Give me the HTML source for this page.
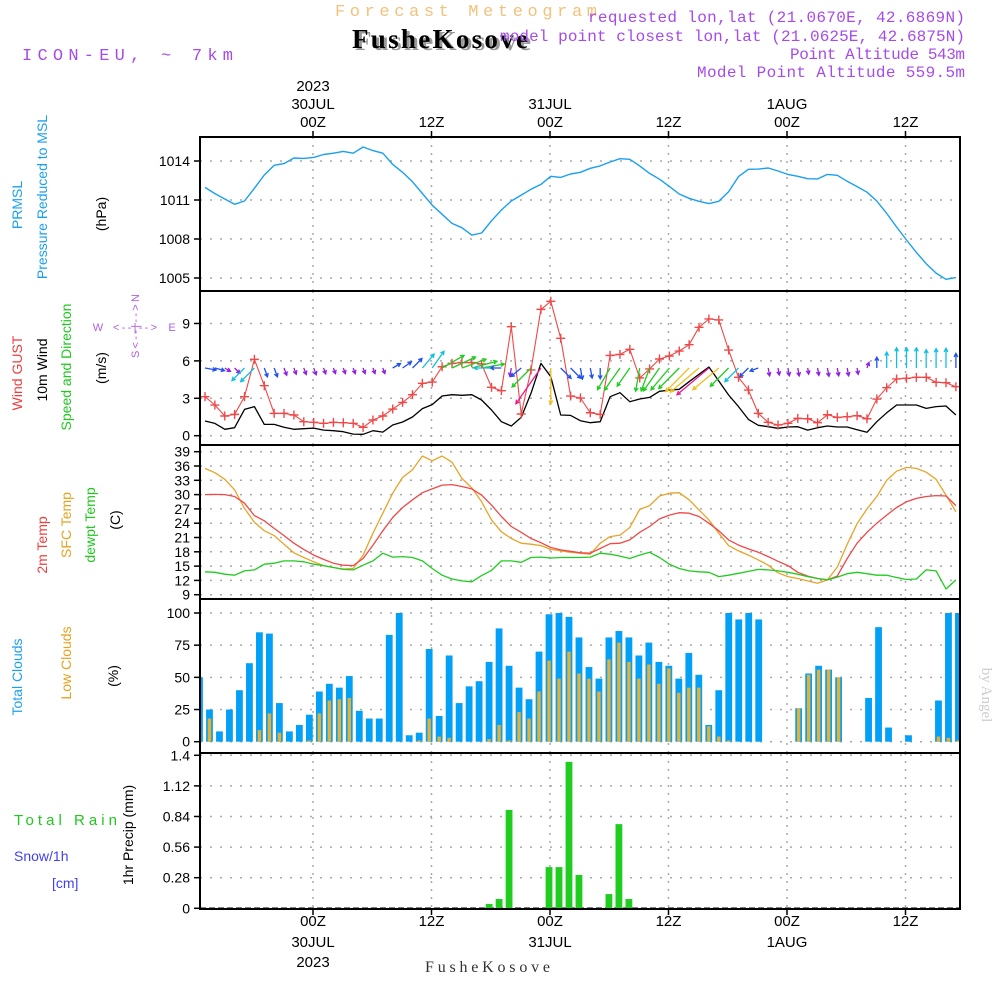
<!DOCTYPE html>
<html><head><meta charset="utf-8"><title>Meteogram</title>
<style>
html,body{margin:0;padding:0;background:#fff;}
svg{display:block;font-family:"Liberation Sans",sans-serif;}
</style></head>
<body>
<svg id="chart" xmlns="http://www.w3.org/2000/svg" width="1000" height="1000" viewBox="0 0 1000 1000">
<rect x="0" y="0" width="1000" height="1000" fill="#fff"/>
<g>
<text x="335" y="16" textLength="262" font-size="17" fill="#f2c27c" font-family="Liberation Mono,monospace">Forecast Meteogram</text>
<text x="355" y="50" textLength="176" font-size="27" font-weight="bold" fill="#999" font-family="Liberation Serif,serif">FusheKosove</text>
<text x="352" y="48" textLength="176" font-size="27" font-weight="bold" fill="#000" font-family="Liberation Serif,serif">FusheKosove</text>
<text x="22" y="60" textLength="211" font-size="17" fill="#a64be8" font-family="Liberation Mono,monospace">ICON-EU, ~ 7km</text>
<g font-family="Liberation Mono,monospace" font-size="16" fill="#a64be8" text-anchor="end">
<text x="965" y="22" textLength="377">requested lon,lat (21.0670E, 42.6869N)</text>
<text x="965" y="41" textLength="465">model point closest lon,lat (21.0625E, 42.6875N)</text>
<text x="965" y="59" textLength="175">Point Altitude 543m</text>
<text x="965" y="77" textLength="268">Model Point Altitude 559.5m</text>
</g>
</g>
<g id="grid"></g>
<g id="marks"></g>
<g id="axes"></g>
<g font-size="14">
<text transform="translate(22,205) rotate(-90)" text-anchor="middle" fill="#1aa0f0">PRMSL</text>
<text transform="translate(47,197) rotate(-90)" text-anchor="middle" fill="#1aa0f0">Pressure Reduced to MSL</text>
<text transform="translate(106,214) rotate(-90)" text-anchor="middle" fill="#000">(hPa)</text>
<text transform="translate(22,373) rotate(-90)" text-anchor="middle" fill="#f03c3c">Wind GUST</text>
<text transform="translate(47,370) rotate(-90)" text-anchor="middle" fill="#000">10m Wind</text>
<text transform="translate(71,367) rotate(-90)" text-anchor="middle" fill="#1ec81e">Speed and Direction</text>
<text transform="translate(106,368) rotate(-90)" text-anchor="middle" fill="#000">(m/s)</text>
<g fill="#b060e0" font-size="11" text-anchor="middle">
<text x="98" y="331">W</text><text x="135" y="331" textLength="44">&lt;--|--&gt;</text><text x="172" y="331">E</text>
<text transform="translate(139,326) rotate(-90)" textLength="64">S&lt;--|--&gt;N</text>
</g>
<text transform="translate(47,545) rotate(-90)" text-anchor="middle" fill="#f03c3c">2m Temp</text>
<text transform="translate(71,525) rotate(-90)" text-anchor="middle" fill="#e8a020">SFC Temp</text>
<text transform="translate(95,525) rotate(-90)" text-anchor="middle" fill="#1ec81e">dewpt Temp</text>
<text transform="translate(120,520) rotate(-90)" text-anchor="middle" fill="#000">(C)</text>
<text transform="translate(22,677) rotate(-90)" text-anchor="middle" fill="#1aa0f0">Total Clouds</text>
<text transform="translate(71,663) rotate(-90)" text-anchor="middle" fill="#e8a020">Low Clouds</text>
<text transform="translate(118,676) rotate(-90)" text-anchor="middle" fill="#000">(%)</text>
<text x="14" y="825" fill="#1ec81e" font-size="15" textLength="103">Total  Rain</text>
<text x="14" y="861" fill="#4040f0">Snow/1h</text>
<text x="52" y="888" fill="#4040f0">[cm]</text>
<text transform="translate(133,835) rotate(-90)" text-anchor="middle" fill="#000">1hr Precip (mm)</text>
</g>
<text transform="translate(982,695) rotate(90)" text-anchor="middle" font-family="Liberation Serif,serif" font-size="15" fill="#ccc">by Angel</text>
<text x="425" y="972" textLength="125" font-family="Liberation Serif,serif" font-size="16" fill="#333">FusheKosove</text>
</svg>
<script>
// ---- data (hourly, index 0 = ~13Z 29JUL) ----
const pressure = [1011.97,1011.49,1011.08,1010.67,1010.92,1011.9,1012.92,1013.67,1013.8,1014.23,1014.2,1014.28,1014.5,1014.6,1014.74,1014.6,1015.08,1014.8,1014.6,1013.74,1013.13,1012.4,1011.5,1010.6,1009.9,1009.2,1008.87,1008.3,1008.46,1009.4,1010.23,1010.92,1011.38,1011.82,1012.2,1012.82,1012.74,1013.0,1013.13,1013.44,1013.62,1013.92,1014.18,1014.13,1013.62,1013.05,1012.6,1012.05,1011.46,1011.13,1010.9,1010.72,1010.9,1011.64,1012.8,1013.36,1013.38,1013.46,1013.23,1012.97,1012.82,1012.64,1012.62,1012.97,1012.9,1012.44,1012.03,1011.6,1010.92,1009.97,1008.92,1007.92,1006.97,1006.1,1005.38,1004.9,1005.03];
const gust = [3.13,2.46,1.58,1.71,3.13,6.12,4.01,1.79,1.79,1.66,1.12,1.07,0.99,1.07,1.04,0.99,0.67,1.26,1.58,2.14,2.67,3.29,4.2,4.3,5.53,5.8,5.86,5.86,5.75,3.88,3.61,8.74,1.74,5.27,10.13,10.78,7.81,3.18,3.02,1.84,1.71,6.44,6.52,6.93,4.63,5.35,6.15,6.39,6.79,7.30,8.69,9.36,9.28,6.87,4.68,3.66,1.79,1.07,0.86,0.99,1.39,1.36,1.04,1.68,1.47,1.52,1.60,1.36,2.94,3.85,4.55,4.60,4.68,4.68,4.28,4.25,3.93];
const wind = [1.18,0.99,0.51,0.64,2.11,2.33,0.91,0.91,0.67,0.51,0.56,0.61,0.45,0.40,0.32,0.13,0.11,0.40,0.29,0.86,1.10,1.50,2.17,2.49,3.18,3.29,3.24,3.29,2.86,2.06,1.12,0.78,1.47,3.40,5.80,4.73,1.66,1.63,1.20,1.04,1.12,3.13,3.45,2.73,2.94,3.07,3.56,3.66,3.72,4.33,4.92,5.51,4.39,3.26,2.33,1.31,0.83,0.72,0.59,0.70,0.72,0.45,0.64,0.78,0.70,0.70,0.48,0.27,1.12,1.84,2.46,2.46,2.46,2.19,2.33,2.38,1.66];
const windToDir = [10,15,30,45,135,135,70,70,70,70,70,70,70,70,70,70,70,70,70,-30,-35,-45,-50,-55,-30,-25,-20,-15,-10,180,180,100,140,135,125,90,45,45,80,80,90,120,125,125,100,110,125,130,135,135,140,140,140,135,135,135,160,80,80,80,80,80,80,80,80,80,80,-70,-90,-90,-90,-90,-90,-90,-90,-90,-90];
const temp2m = [30.0,30.05,30.0,29.6,28.2,25.6,24.5,22.9,21.4,19.8,18.5,17.3,16.4,15.6,15.2,15.1,16.6,19.4,22.4,25.2,27.3,28.9,30.4,31.2,32.0,32.1,31.7,31.2,29.9,27.8,25.4,23.3,22.1,20.8,19.9,18.9,18.4,18.1,17.8,17.7,18.7,19.7,19.8,20.5,22.1,23.3,24.9,25.7,26.2,26.1,25.4,24.0,22.4,20.5,19.4,18.6,17.9,17.0,16.0,15.1,13.7,12.9,12.4,12.1,12.9,16.6,19.8,22.1,24.0,25.7,27.3,28.5,29.2,29.6,29.8,29.7,27.7];
const tempSfc = [35.5,34.6,33.2,31.0,27.1,24.2,22.4,21.4,19.6,17.8,16.8,15.9,15.1,14.7,14.4,14.5,17.3,21.9,26.1,30.3,33.6,35.2,38.1,37.1,38.1,36.8,33.4,31.4,28.5,24.7,22.2,20.8,19.8,19.6,19.3,18.5,18.2,17.9,17.7,17.5,19.8,21.2,21.5,23.1,26.9,27.7,29.7,30.3,30.4,28.9,26.8,24.7,21.9,19.3,18.2,17.3,16.3,15.2,13.6,12.8,12.4,11.9,11.4,12.1,14.8,19.6,23.9,27.0,29.6,33.0,34.9,35.7,35.5,34.7,33.2,29.9,26.4];
const dewpt = [13.8,13.7,13.3,13.1,14.0,14.2,15.4,15.6,16.1,16.1,15.9,15.4,15.1,14.7,14.3,14.2,15.2,16.1,17.7,16.9,17.0,16.8,16.1,14.5,13.1,12.3,11.9,11.7,13.0,14.1,16.1,16.1,15.8,16.8,16.9,16.7,16.8,16.8,16.8,16.9,17.7,17.5,17.1,16.6,17.3,17.9,16.8,15.4,14.5,14.0,13.8,13.7,12.8,13.1,13.5,13.9,14.3,14.2,14.0,13.7,13.3,12.8,12.4,12.1,12.7,13.4,13.7,13.4,13.1,13.1,12.6,12.2,12.3,14.2,14.0,10.2,12.1];
const totalClouds = [50,25,8,25,40,61,85,84,30,8,13,21,39,45,42,51,24,18,18,83,100,5,7,72,20,67,30,43,47,62,88,59,42,33,70,99,100,97,81,58,49,81,86,81,67,77,62,59,49,69,52,13,40,100,95,100,95,0,0,0,26,53,59,56,50,0,0,34,89,11,0,5,0,0,32,100,100];
const lowClouds = [9,18,0,0,0,0,9,22,7,0,0,1,22,32,33,34,0,0,0,0,0,0,1,18,4,3,0,0,0,2,13,1,23,18,39,63,49,70,53,49,39,64,77,62,49,60,45,57,38,42,42,12,4,1,0,0,0,0,0,0,26,52,56,56,50,0,0,0,0,0,0,0,0,0,4,3,1];
const precip = [0,0,0,0,0,0,0,0,0,0,0,0,0,0,0,0,0,0,0,0,0,0,0,0,0,0,0,0,0,0.04,0.085,0.9,0,0,0,0.377,0.377,1.34,0.305,0,0,0.13,0.77,0.085,0,0,0,0,0,0,0,0,0,0,0,0,0,0,0,0,0,0,0,0,0,0,0,0,0,0,0,0,0,0,0,0,0];
const timeTickHours = [0,12,24,36,48,60];
const timeTickTop = [["2023","30JUL","00Z"],["","","12Z"],["","31JUL","00Z"],["","","12Z"],["","1AUG","00Z"],["","","12Z"]];
const timeTickBottom = [["00Z","30JUL","2023"],["12Z","",""],["00Z","31JUL",""],["12Z","",""],["00Z","1AUG",""],["12Z","",""]];
const pressureTicks = [1005,1008,1011,1014];
const windTicks = [0,3,6,9];
const tempTicks = [9,12,15,18,21,24,27,30,33,36,39];
const cloudTicks = [0,25,50,75,100];
const precipTicks = [0,0.28,0.56,0.84,1.12,1.4];

// ---- scales ----
const X0 = 200, X1 = 960;
const tx = h => 313 + 9.875*h;
const lx = i => 205 + 9.88*i;
const bx = i => 199.5 + 9.986*i;
const yP = p => 161 + (1014-p)*13;
const yW = v => 435.7 - v*12.47;
const yT = t => 451.7 + (39-t)*4.767;
const yC = c => 741.7 - c*1.287;
const yR = r => 908.3 - r*109.3;
const panels = [[137,291],[291,445],[445,599],[599,753],[753,909]];

const NS = "http://www.w3.org/2000/svg";
function mk(tag, attrs, parent){ const e=document.createElementNS(NS,tag); for(const k in attrs) e.setAttribute(k,attrs[k]); parent.appendChild(e); return e; }
const grid = document.getElementById('grid'), marks = document.getElementById('marks'), axes = document.getElementById('axes');

const defs = mk('defs',{},document.getElementById('chart'));
const cp = mk('clipPath',{id:'plotclip'},defs); mk('rect',{x:X0,y:137,width:X1-X0,height:772},cp);
marks.setAttribute('clip-path','url(#plotclip)');

function hgrid(vals, f){ vals.forEach(v=>{ const l=mk('line',{x1:X0,x2:X1,y1:f(v),y2:f(v),stroke:'#aaa','stroke-width':1.5,'stroke-dasharray':'2,8'},grid);

 }); }
hgrid(pressureTicks,yP); hgrid(windTicks,yW); hgrid(tempTicks,yT); hgrid(cloudTicks,yC); hgrid(precipTicks.slice(1),yR);
timeTickHours.forEach(h=>{ panels.forEach(p=>{ const l=mk('line',{x1:tx(h),x2:tx(h),y1:p[0],y2:p[1],stroke:'#aaa','stroke-width':1.5,'stroke-dasharray':'2,6'},grid);

 }); });

function ylabels(vals,f,fmt){ vals.forEach(v=>{ const t=mk('text',{x:190,y:f(v)+5,'text-anchor':'end','font-size':14,fill:'#000'},axes); t.textContent=fmt(v);


mk('line',{x1:X0-6,x2:X0,y1:f(v),y2:f(v),stroke:'#000','stroke-width':1.5},axes); }); }
ylabels(pressureTicks,yP,v=>v); ylabels(windTicks,yW,v=>v); ylabels(tempTicks,yT,v=>v); ylabels(cloudTicks,yC,v=>v); ylabels(precipTicks,yR,v=>v===0?'0':String(v));

function polyline(arr, xf, yf, color, name, w){ const pts=arr.map((v,i)=>xf(i).toFixed(1)+','+yf(v).toFixed(1)).join(' ');
const p=mk('polyline',{points:pts,fill:'none',stroke:color,'stroke-width':w||1.3,'stroke-linejoin':'round'},marks);

 return p; }
polyline(pressure,lx,yP,'#1aa0f0','pressure-line',1.4);

totalClouds.forEach((c,i)=>{ if(c<=0) return; const r=mk('rect',{x:bx(i)-3.4,y:yC(c),width:6.8,height:yC(0)-yC(c),fill:'#03a0f8'},marks);

 });
lowClouds.forEach((c,i)=>{ if(c<=0) return; const r=mk('rect',{x:bx(i)-1.7,y:yC(c),width:3.4,height:yC(0)-yC(c),fill:'#e8b030'},marks);

 });
mk('line',{x1:X0,x2:X1,y1:yR(0),y2:yR(0),stroke:'#000','stroke-width':1.5,'stroke-dasharray':'6,3'},marks);
precip.forEach((r,i)=>{ if(r<=0) return; const e=mk('rect',{x:bx(i)-3.4,y:yR(r),width:6.8,height:yR(0)-yR(r),fill:'#20cc20'},marks);

 });

polyline(tempSfc,lx,yT,'#e8a428','sfc-temp-line');
polyline(temp2m,lx,yT,'#f04848','temp-2m-line');
polyline(dewpt,lx,yT,'#20cc20','dewpt-line');

polyline(wind,lx,yW,'#000','wind-line');
polyline(gust,lx,yW,'#f04848','gust-line',1.1);
gust.forEach((g,i)=>{ const x=lx(i), y=yW(g);
const m=mk('path',{d:`M${x-4.5},${y}H${x+4.5}M${x},${y-4.5}V${y+4.5}`,stroke:'#f04848','stroke-width':1.4},marks);

 });
function windColor(s){ return s<0.8?'#9020e0':s<1.8?'#2050f0':s<2.6?'#10c0e0':s<3.9?'#20cc20':s<5?'#f0c020':'#f01890'; }
windToDir.forEach((d,i)=>{ const s=wind[i]; const len=Math.max(6,Math.min(45,7*s+3)); const a=d*Math.PI/180;
const x0=lx(i), y0=368; const x1=x0+len*Math.cos(a), y1=y0+len*Math.sin(a);
const h=4, a1=a+Math.PI-0.5, a2=a+Math.PI+0.5; const col=windColor(s);
const p=mk('path',{d:`M${x0.toFixed(1)},${y0}L${x1.toFixed(1)},${y1.toFixed(1)}M${(x1+h*Math.cos(a1)).toFixed(1)},${(y1+h*Math.sin(a1)).toFixed(1)}L${x1.toFixed(1)},${y1.toFixed(1)}L${(x1+h*Math.cos(a2)).toFixed(1)},${(y1+h*Math.sin(a2)).toFixed(1)}`,stroke:col,'stroke-width':1.3,fill:'none'},marks);

 });

panels.forEach(p=>{ const r=mk('rect',{x:X0,y:p[0],width:X1-X0,height:p[1]-p[0],fill:'none',stroke:'#000','stroke-width':2},axes);

 });
timeTickHours.forEach((h,k)=>{ const x=tx(h);
mk('line',{x1:x,x2:x,y1:131,y2:137,stroke:'#000','stroke-width':1.5},axes);
mk('line',{x1:x,x2:x,y1:909,y2:915,stroke:'#000','stroke-width':1.5},axes);
[86,104,122].forEach((yy,j)=>{ if(!timeTickTop[k][j]) return; const t=mk('text',{x:x,y:yy+5,'text-anchor':'middle','font-size':15,fill:'#000'},axes); t.textContent=timeTickTop[k][j];

 });
[921,942,962].forEach((yy,j)=>{ if(!timeTickBottom[k][j]) return; const t=mk('text',{x:x,y:yy+5,'text-anchor':'middle','font-size':15,fill:'#000'},axes); t.textContent=timeTickBottom[k][j];

 });
});
</script>
</body></html>
